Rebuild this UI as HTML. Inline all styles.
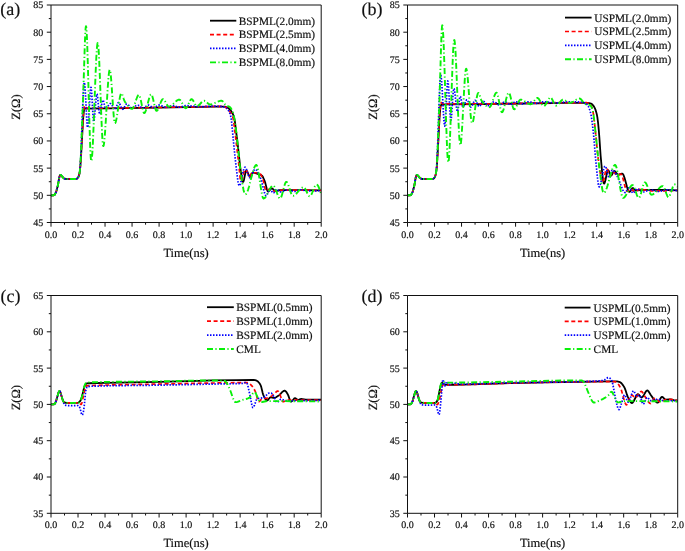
<!DOCTYPE html><html><head><meta charset="utf-8"><style>
html,body{margin:0;padding:0;background:#fff;width:685px;height:551px;overflow:hidden}
svg{display:block;font-family:"Liberation Serif", serif;will-change:transform;text-rendering:geometricPrecision}
text{stroke:#111;stroke-width:0.18px}
</style></head><body>
<svg width="685" height="551" viewBox="0 0 685 551">
<rect width="685" height="551" fill="#fff"/>
<clipPath id="clipa"><rect x="51.0" y="5.0" width="270.2" height="217.5"/></clipPath>
<g fill="none" stroke-linejoin="round" clip-path="url(#clipa)">
<path stroke="#000" stroke-width="1.8" d="M51.00 195.31 L53.50 195.31 L54.11 195.19 L54.45 194.95 L54.78 194.57 L55.53 193.29 L56.00 192.13 L56.47 190.73 L57.55 186.84 L58.09 184.28 L58.97 178.95 L59.38 176.95 L59.78 175.69 L59.98 175.31 L60.25 175.01 L60.46 174.92 L60.66 174.92 L61.20 175.28 L62.96 177.50 L63.70 178.22 L64.17 178.50 L64.78 178.75 L65.86 178.98 L74.51 179.00 L75.99 178.85 L77.01 178.56 L77.55 178.23 L78.09 177.50 L78.63 176.35 L79.24 174.37 L79.71 171.95 L80.11 168.75 L80.45 164.97 L81.13 154.68 L82.82 123.81 L83.22 117.76 L83.56 113.74 L83.90 110.91 L84.23 109.33 L84.37 109.00 L84.57 108.73 L84.78 108.62 L85.18 108.59 L109.30 108.37 L158.67 107.67 L187.65 107.20 L216.84 106.61 L224.00 106.58 L224.94 106.69 L226.02 107.00 L227.51 107.60 L228.52 108.26 L229.74 109.40 L231.16 111.10 L232.17 112.64 L232.98 114.25 L233.72 116.16 L234.26 118.06 L234.67 120.17 L235.07 123.00 L237.78 145.12 L238.52 151.52 L239.67 162.46 L240.34 167.90 L241.29 174.64 L241.90 178.37 L242.44 180.76 L242.71 181.50 L242.91 181.82 L243.11 181.92 L243.31 181.77 L243.52 181.40 L243.72 180.81 L244.13 179.13 L245.48 172.25 L245.88 171.00 L246.08 170.67 L246.35 170.52 L246.69 170.70 L247.10 171.28 L247.57 172.25 L248.99 175.60 L249.46 176.35 L249.87 176.65 L250.20 176.60 L250.61 176.15 L251.83 173.63 L252.23 172.95 L252.57 172.64 L252.97 172.51 L253.72 172.58 L254.66 172.82 L257.91 174.03 L260.34 174.76 L261.35 175.20 L261.96 175.63 L262.50 176.30 L263.04 177.25 L264.59 180.88 L265.34 183.13 L266.62 188.20 L267.09 189.83 L267.63 191.12 L267.84 191.39 L268.11 191.57 L268.44 191.55 L268.85 191.27 L269.32 190.73 L270.74 188.84 L271.21 188.44 L271.62 188.32 L272.02 188.39 L272.50 188.68 L274.05 190.23 L274.52 190.63 L274.93 190.84 L275.40 190.94 L276.62 190.83 L279.52 190.25 L280.81 190.15 L303.91 190.20 L321.20 190.42"/>
<path stroke="#ff0000" stroke-width="1.7" stroke-dasharray="4 2.6" d="M51.00 195.31 L53.50 195.31 L54.11 195.19 L54.45 194.95 L54.78 194.57 L55.53 193.29 L56.00 192.13 L56.47 190.73 L57.55 186.84 L58.09 184.28 L58.97 178.95 L59.38 176.95 L59.78 175.69 L59.98 175.31 L60.25 175.01 L60.46 174.92 L60.66 174.92 L61.20 175.28 L62.96 177.50 L63.70 178.22 L64.17 178.50 L64.85 178.77 L65.93 178.99 L74.57 179.00 L75.39 178.95 L76.13 178.82 L77.07 178.54 L77.61 178.16 L78.16 177.38 L78.70 176.17 L79.24 174.37 L79.64 172.37 L79.98 169.96 L80.32 166.59 L81.06 155.79 L82.68 125.58 L83.36 115.03 L83.76 110.45 L84.10 107.87 L84.30 106.85 L84.50 106.17 L84.71 105.80 L84.91 105.71 L85.05 105.78 L85.25 106.03 L85.92 107.35 L86.19 107.73 L86.53 107.97 L87.14 108.04 L107.54 108.04 L119.16 107.94 L161.38 107.35 L215.82 106.44 L222.58 106.42 L223.39 106.51 L224.27 106.75 L225.95 107.51 L226.97 108.24 L228.12 109.48 L230.14 112.08 L231.16 113.53 L231.97 115.02 L232.64 116.67 L233.11 118.35 L233.52 120.53 L233.93 123.46 L237.84 155.88 L238.99 166.08 L240.14 178.21 L240.48 180.41 L240.61 180.90 L240.82 181.27 L241.02 181.29 L241.22 181.08 L241.49 180.58 L241.83 179.71 L242.37 177.92 L243.72 172.80 L244.33 170.94 L244.60 170.34 L244.87 169.91 L245.14 169.67 L245.41 169.62 L245.61 169.68 L245.88 169.87 L246.35 170.44 L246.96 171.50 L248.72 175.00 L249.26 175.76 L249.73 176.10 L250.00 176.08 L250.27 175.83 L250.54 175.34 L251.35 173.41 L251.62 173.02 L251.96 172.80 L252.57 172.75 L258.78 172.76 L259.39 172.90 L259.86 173.25 L260.40 173.93 L261.01 174.97 L261.96 176.91 L262.57 178.34 L263.31 180.84 L264.59 186.50 L265.13 188.58 L265.47 189.59 L265.74 190.17 L266.01 190.53 L266.28 190.69 L266.55 190.70 L266.96 190.55 L268.92 189.15 L269.39 188.92 L269.86 188.83 L270.33 188.90 L270.88 189.15 L272.56 190.38 L273.10 190.71 L273.58 190.89 L274.12 190.95 L276.01 190.86 L280.94 190.28 L283.24 190.15 L304.92 190.20 L321.20 190.42"/>
<path stroke="#0000ff" stroke-width="1.7" stroke-dasharray="1.5 1.5" d="M51.00 195.31 L53.50 195.31 L54.11 195.19 L54.45 194.95 L54.78 194.57 L55.53 193.29 L56.00 192.13 L56.47 190.73 L57.55 186.84 L58.09 184.28 L58.97 178.95 L59.38 176.95 L59.78 175.69 L59.98 175.31 L60.25 175.01 L60.46 174.92 L60.66 174.92 L61.13 175.22 L61.61 175.73 L63.02 177.58 L63.43 178.00 L63.83 178.31 L64.44 178.62 L65.12 178.85 L65.73 178.97 L66.40 179.00 L74.78 178.99 L75.72 178.90 L76.67 178.68 L77.34 178.39 L77.88 177.83 L78.49 176.68 L79.03 175.16 L79.51 173.08 L79.84 170.73 L80.18 167.04 L80.45 162.92 L81.13 148.58 L82.55 110.47 L83.15 96.11 L83.49 89.86 L83.76 86.06 L84.10 83.12 L84.23 82.58 L84.37 82.43 L84.50 82.67 L84.71 83.76 L85.05 87.36 L85.45 93.98 L86.80 120.50 L87.21 125.52 L87.41 126.91 L87.61 127.44 L87.75 127.33 L87.95 126.48 L88.36 122.70 L88.76 116.85 L90.11 93.79 L90.52 89.22 L90.72 87.89 L90.92 87.33 L91.06 87.44 L91.19 87.94 L91.53 90.86 L91.94 96.88 L93.02 116.13 L93.42 120.44 L93.56 121.17 L93.76 121.60 L93.89 121.46 L94.10 120.70 L94.50 117.61 L95.85 101.09 L96.26 96.97 L96.60 94.74 L96.80 94.08 L96.93 93.96 L97.07 94.09 L97.27 94.77 L97.61 96.99 L98.69 108.40 L99.10 111.98 L99.43 113.74 L99.57 114.08 L99.70 114.22 L99.84 114.17 L100.04 113.79 L100.45 112.21 L101.80 103.72 L102.20 101.61 L102.54 100.45 L102.74 100.10 L102.88 100.02 L103.01 100.06 L103.15 100.21 L103.49 101.04 L104.90 107.20 L105.24 108.16 L105.58 108.63 L105.78 108.70 L105.99 108.67 L106.26 108.51 L106.59 108.20 L107.27 107.32 L108.62 105.16 L109.23 104.31 L109.90 103.67 L110.17 103.54 L110.44 103.50 L110.92 103.69 L111.46 104.26 L112.00 105.12 L113.75 108.36 L114.29 109.02 L114.77 109.27 L114.97 109.26 L115.17 109.15 L115.65 108.53 L116.19 107.34 L117.60 103.60 L118.08 102.79 L118.35 102.55 L118.55 102.48 L118.75 102.52 L118.96 102.65 L119.43 103.27 L119.97 104.37 L121.12 107.21 L121.59 108.22 L122.13 109.02 L122.40 109.23 L122.60 109.28 L122.81 109.26 L123.08 109.11 L123.62 108.49 L124.09 107.71 L125.24 105.53 L125.78 104.68 L126.25 104.20 L126.72 104.03 L126.99 104.06 L127.33 104.19 L128.01 104.67 L128.68 105.35 L130.17 107.07 L130.91 107.78 L131.52 108.15 L132.06 108.27 L132.60 108.19 L133.21 107.91 L133.88 107.44 L136.11 105.58 L136.86 105.19 L137.46 105.09 L138.00 105.17 L138.61 105.45 L139.36 105.98 L141.52 107.78 L142.19 108.14 L142.80 108.28 L143.41 108.19 L144.02 107.91 L144.76 107.38 L146.92 105.58 L147.60 105.22 L148.27 105.08 L148.81 105.15 L149.42 105.38 L150.10 105.78 L152.32 107.33 L153.00 107.63 L153.61 107.74 L154.15 107.68 L154.76 107.47 L155.50 107.04 L157.73 105.49 L158.47 105.17 L159.15 105.07 L159.82 105.14 L160.57 105.33 L164.15 106.88 L165.02 107.13 L165.77 107.21 L166.44 107.18 L167.25 107.03 L170.90 105.85 L171.78 105.67 L172.59 105.61 L173.33 105.66 L174.08 105.80 L177.59 106.95 L178.47 107.14 L179.21 107.21 L179.95 107.18 L180.70 107.05 L184.48 105.84 L185.36 105.66 L186.24 105.60 L189.27 105.75 L195.69 106.46 L198.53 106.66 L201.91 106.64 L210.08 106.21 L213.80 106.14 L216.57 106.21 L219.33 106.38 L222.37 106.66 L223.59 106.89 L224.94 107.38 L226.36 108.15 L227.17 108.80 L227.91 109.70 L228.93 111.35 L229.74 113.05 L230.41 114.99 L230.95 117.20 L231.29 119.25 L231.63 122.06 L233.86 145.49 L235.21 158.72 L235.95 165.34 L237.37 177.04 L237.98 181.44 L238.59 184.54 L238.86 185.34 L239.13 185.75 L239.26 185.81 L239.40 185.79 L239.73 185.45 L240.07 184.76 L240.41 183.80 L241.15 180.97 L242.84 173.03 L243.59 169.99 L243.99 168.70 L244.33 167.90 L244.73 167.32 L245.07 167.20 L245.34 167.31 L245.61 167.59 L246.15 168.58 L246.76 170.17 L248.11 174.38 L248.72 176.06 L249.33 177.26 L249.60 177.59 L249.87 177.76 L250.14 177.78 L250.48 177.60 L250.81 177.22 L251.15 176.68 L251.83 175.25 L253.45 171.26 L253.92 170.32 L254.39 169.66 L254.87 169.33 L255.14 169.29 L255.41 169.35 L256.01 169.73 L256.69 170.50 L257.43 171.67 L258.24 173.22 L260.13 177.34 L260.74 178.80 L261.69 181.84 L263.65 189.74 L264.46 192.64 L264.93 193.99 L265.34 194.88 L265.74 195.47 L266.08 195.69 L266.28 195.70 L266.48 195.60 L266.96 194.99 L267.50 193.79 L268.92 190.05 L269.39 189.25 L269.66 189.00 L269.86 188.93 L270.20 189.02 L270.61 189.40 L271.01 190.00 L272.36 192.35 L272.83 192.87 L273.24 193.03 L273.64 192.90 L274.05 192.53 L275.47 190.39 L275.94 189.80 L276.35 189.49 L276.68 189.40 L277.09 189.48 L277.63 189.78 L279.32 191.33 L279.86 191.73 L280.33 191.95 L280.81 192.02 L281.41 191.96 L282.16 191.77 L285.67 190.25 L286.55 189.99 L287.29 189.89 L288.03 189.92 L288.84 190.07 L292.49 191.25 L293.37 191.43 L294.11 191.49 L294.86 191.45 L295.67 191.30 L299.18 190.15 L299.99 189.97 L300.73 189.89 L301.48 189.90 L302.35 190.00 L305.93 190.78 L307.55 190.96 L311.88 190.95 L315.26 190.87 L318.16 190.71 L321.20 190.43"/>
<path stroke="#08f008" stroke-width="1.9" stroke-dasharray="6 2.4 1.2 2.4" d="M51.00 195.31 L53.50 195.31 L54.11 195.19 L54.45 194.95 L54.78 194.57 L55.53 193.29 L56.00 192.13 L56.47 190.73 L57.55 186.84 L58.09 184.28 L58.97 178.95 L59.38 176.95 L59.78 175.69 L59.98 175.31 L60.25 175.01 L60.59 174.91 L61.00 175.10 L61.54 175.65 L62.69 177.17 L63.43 178.00 L64.10 178.46 L65.12 178.85 L66.27 179.00 L75.05 178.98 L75.99 178.85 L76.87 178.61 L77.34 178.39 L77.75 178.01 L78.22 177.25 L78.70 176.18 L79.03 175.17 L79.37 173.80 L79.78 171.31 L80.18 167.13 L80.59 160.77 L80.99 152.50 L83.02 100.71 L84.91 41.58 L85.45 30.42 L85.72 27.34 L85.86 26.54 L85.99 26.23 L86.13 26.44 L86.26 27.15 L86.60 30.96 L86.94 37.39 L87.27 46.00 L87.95 68.00 L89.44 123.78 L90.18 146.39 L90.52 153.75 L90.79 157.92 L91.06 160.40 L91.19 161.01 L91.33 161.22 L91.46 161.05 L91.67 160.18 L92.07 156.50 L92.48 150.69 L92.88 143.11 L93.69 124.06 L95.52 75.19 L96.33 57.29 L96.73 50.55 L97.07 46.40 L97.41 43.81 L97.61 43.09 L97.74 42.98 L97.88 43.19 L98.08 44.10 L98.42 47.16 L98.76 51.97 L99.10 58.26 L99.77 74.15 L101.39 118.20 L102.14 134.57 L102.47 140.01 L102.74 143.19 L103.01 145.21 L103.15 145.78 L103.35 146.12 L103.49 146.03 L103.69 145.47 L104.09 143.10 L104.50 139.35 L104.90 134.45 L105.72 122.16 L107.54 90.61 L108.35 79.05 L108.76 74.70 L109.09 72.02 L109.43 70.34 L109.63 69.87 L109.77 69.79 L109.90 69.90 L110.04 70.21 L110.38 71.81 L110.71 74.46 L111.05 78.01 L111.66 86.05 L113.15 108.58 L113.82 116.91 L114.16 119.95 L114.43 121.68 L114.70 122.73 L114.83 123.01 L114.97 123.14 L115.10 123.15 L115.31 122.96 L115.71 122.04 L116.12 120.57 L116.52 118.66 L117.33 113.84 L119.16 101.49 L120.04 96.65 L120.37 95.26 L120.71 94.21 L121.05 93.54 L121.18 93.40 L121.39 93.30 L121.59 93.35 L121.79 93.54 L122.20 94.25 L122.67 95.50 L123.75 99.00 L124.22 100.31 L124.76 101.42 L125.78 102.99 L127.60 105.56 L129.09 107.26 L129.76 107.86 L130.44 108.33 L131.11 108.66 L131.72 108.81 L132.13 108.78 L132.53 108.58 L132.94 108.15 L133.34 107.50 L133.82 106.52 L134.36 105.16 L136.45 98.98 L137.33 96.75 L137.87 95.72 L138.34 95.11 L138.75 94.87 L138.95 94.87 L139.15 94.98 L139.42 95.32 L139.76 96.05 L140.37 98.12 L140.98 100.87 L142.40 108.02 L143.07 110.83 L143.41 111.87 L143.68 112.48 L143.95 112.87 L144.29 113.04 L144.62 112.90 L144.96 112.51 L145.37 111.76 L145.77 110.75 L146.65 107.90 L148.61 100.23 L149.42 97.42 L149.89 96.10 L150.30 95.21 L150.70 94.61 L151.11 94.34 L151.45 94.42 L151.72 94.73 L151.99 95.23 L152.32 96.13 L153.07 98.90 L154.55 105.72 L155.23 108.41 L155.57 109.46 L155.91 110.25 L156.24 110.73 L156.58 110.90 L156.85 110.84 L157.19 110.59 L157.53 110.18 L157.93 109.51 L158.74 107.73 L160.57 102.88 L161.38 100.99 L161.78 100.23 L162.19 99.66 L162.59 99.29 L162.93 99.16 L163.27 99.19 L163.61 99.36 L164.01 99.73 L164.42 100.25 L165.16 101.47 L166.85 104.64 L167.66 105.86 L168.27 106.43 L168.60 106.59 L168.94 106.64 L169.48 106.58 L170.16 106.35 L170.83 105.98 L171.51 105.51 L172.79 104.41 L175.76 101.51 L177.25 100.35 L177.93 99.98 L178.60 99.73 L179.21 99.65 L179.68 99.74 L180.02 99.93 L180.36 100.23 L181.10 101.21 L181.84 102.51 L183.53 105.79 L184.34 107.11 L185.09 107.94 L185.42 108.15 L185.76 108.23 L186.10 108.17 L186.37 108.00 L186.71 107.65 L187.05 107.16 L187.79 105.74 L189.34 102.09 L190.02 100.69 L190.69 99.65 L191.03 99.33 L191.37 99.17 L191.64 99.16 L191.98 99.28 L192.31 99.53 L192.65 99.90 L193.40 101.00 L195.02 103.97 L195.69 105.04 L196.10 105.54 L196.44 105.84 L196.77 106.02 L197.11 106.09 L197.45 106.05 L197.85 105.91 L198.66 105.38 L199.54 104.55 L201.37 102.50 L202.18 101.69 L202.99 101.07 L203.73 100.77 L204.07 100.74 L204.47 100.78 L205.22 101.09 L206.03 101.68 L207.85 103.35 L208.59 103.94 L209.40 104.37 L210.22 104.49 L211.50 104.33 L212.98 103.88 L214.40 103.28 L217.71 101.71 L219.33 101.09 L220.15 100.88 L220.96 100.75 L221.56 100.73 L221.97 100.81 L222.51 101.12 L223.05 101.63 L225.14 104.42 L225.95 105.28 L226.77 105.76 L228.45 106.31 L229.13 106.59 L229.80 107.04 L230.41 107.64 L231.29 108.84 L232.24 110.58 L232.84 112.03 L233.38 113.88 L233.99 116.71 L234.67 120.60 L236.36 132.21 L237.17 139.41 L239.46 162.65 L240.07 167.55 L241.63 178.49 L242.64 185.14 L243.52 189.89 L244.26 192.75 L244.67 193.74 L245.00 194.21 L245.27 194.36 L245.54 194.35 L245.81 194.22 L246.15 193.90 L246.83 192.85 L247.57 191.16 L248.25 189.20 L249.06 186.46 L252.16 174.39 L253.51 169.74 L254.26 167.69 L254.93 166.26 L255.61 165.32 L255.95 165.06 L256.22 164.99 L256.42 165.04 L256.62 165.19 L257.03 165.89 L257.43 167.09 L257.84 168.75 L258.78 173.96 L260.88 188.18 L261.76 193.37 L262.23 195.57 L262.63 197.01 L263.04 197.96 L263.24 198.25 L263.51 198.44 L263.92 198.45 L264.39 198.23 L264.93 197.77 L265.54 197.05 L266.15 196.14 L266.82 194.97 L269.52 189.63 L270.67 187.64 L271.35 186.71 L271.96 186.08 L272.50 185.72 L273.04 185.59 L273.51 185.73 L273.92 186.08 L274.32 186.62 L274.79 187.47 L275.67 189.50 L277.77 195.11 L278.31 196.35 L278.78 197.26 L279.25 197.95 L279.66 198.33 L280.06 198.47 L280.40 198.35 L280.74 198.00 L281.08 197.42 L281.82 195.45 L282.49 193.08 L284.12 186.71 L284.93 184.03 L285.33 183.02 L285.67 182.39 L286.01 181.99 L286.34 181.84 L286.68 181.93 L287.02 182.24 L287.36 182.73 L287.76 183.52 L288.57 185.62 L290.40 191.35 L291.14 193.42 L291.55 194.34 L291.95 195.06 L292.29 195.48 L292.69 195.75 L293.17 195.80 L293.71 195.67 L294.38 195.35 L295.06 194.88 L295.73 194.30 L296.54 193.47 L299.58 189.92 L300.87 188.59 L301.61 187.98 L302.29 187.55 L302.96 187.28 L303.50 187.20 L303.91 187.28 L304.31 187.54 L304.72 187.98 L305.12 188.59 L305.87 190.00 L307.69 193.97 L308.57 195.48 L308.97 195.95 L309.31 196.21 L309.72 196.32 L310.05 196.23 L310.39 195.99 L310.73 195.61 L311.54 194.21 L312.28 192.51 L314.11 187.83 L314.92 186.09 L315.32 185.42 L315.73 184.91 L316.13 184.60 L316.47 184.51 L316.94 184.63 L317.48 185.06 L318.03 185.80 L318.57 186.80 L319.51 189.14 L320.86 193.43 L321.20 194.27"/>
</g>
<g stroke="#111" stroke-width="1" fill="none">
<path d="M51.00 5.00 H321.20 V222.50 H51.00 Z" stroke="#111" stroke-width="1"/>
<line x1="51.00" y1="222.50" x2="51.00" y2="226.70"/>
<line x1="64.51" y1="222.50" x2="64.51" y2="224.70"/>
<line x1="78.02" y1="222.50" x2="78.02" y2="226.70"/>
<line x1="91.53" y1="222.50" x2="91.53" y2="224.70"/>
<line x1="105.04" y1="222.50" x2="105.04" y2="226.70"/>
<line x1="118.55" y1="222.50" x2="118.55" y2="224.70"/>
<line x1="132.06" y1="222.50" x2="132.06" y2="226.70"/>
<line x1="145.57" y1="222.50" x2="145.57" y2="224.70"/>
<line x1="159.08" y1="222.50" x2="159.08" y2="226.70"/>
<line x1="172.59" y1="222.50" x2="172.59" y2="224.70"/>
<line x1="186.10" y1="222.50" x2="186.10" y2="226.70"/>
<line x1="199.61" y1="222.50" x2="199.61" y2="224.70"/>
<line x1="213.12" y1="222.50" x2="213.12" y2="226.70"/>
<line x1="226.63" y1="222.50" x2="226.63" y2="224.70"/>
<line x1="240.14" y1="222.50" x2="240.14" y2="226.70"/>
<line x1="253.65" y1="222.50" x2="253.65" y2="224.70"/>
<line x1="267.16" y1="222.50" x2="267.16" y2="226.70"/>
<line x1="280.67" y1="222.50" x2="280.67" y2="224.70"/>
<line x1="294.18" y1="222.50" x2="294.18" y2="226.70"/>
<line x1="307.69" y1="222.50" x2="307.69" y2="224.70"/>
<line x1="321.20" y1="222.50" x2="321.20" y2="226.70"/>
<line x1="51.00" y1="222.50" x2="46.80" y2="222.50"/>
<line x1="51.00" y1="208.91" x2="48.80" y2="208.91"/>
<line x1="51.00" y1="195.31" x2="46.80" y2="195.31"/>
<line x1="51.00" y1="181.72" x2="48.80" y2="181.72"/>
<line x1="51.00" y1="168.12" x2="46.80" y2="168.12"/>
<line x1="51.00" y1="154.53" x2="48.80" y2="154.53"/>
<line x1="51.00" y1="140.94" x2="46.80" y2="140.94"/>
<line x1="51.00" y1="127.34" x2="48.80" y2="127.34"/>
<line x1="51.00" y1="113.75" x2="46.80" y2="113.75"/>
<line x1="51.00" y1="100.16" x2="48.80" y2="100.16"/>
<line x1="51.00" y1="86.56" x2="46.80" y2="86.56"/>
<line x1="51.00" y1="72.97" x2="48.80" y2="72.97"/>
<line x1="51.00" y1="59.38" x2="46.80" y2="59.38"/>
<line x1="51.00" y1="45.78" x2="48.80" y2="45.78"/>
<line x1="51.00" y1="32.19" x2="46.80" y2="32.19"/>
<line x1="51.00" y1="18.59" x2="48.80" y2="18.59"/>
<line x1="51.00" y1="5.00" x2="46.80" y2="5.00"/>
</g>
<g font-size="10" fill="#111" text-anchor="middle">
<text x="51.00" y="237.90">0.0</text>
<text x="78.02" y="237.90">0.2</text>
<text x="105.04" y="237.90">0.4</text>
<text x="132.06" y="237.90">0.6</text>
<text x="159.08" y="237.90">0.8</text>
<text x="186.10" y="237.90">1.0</text>
<text x="213.12" y="237.90">1.2</text>
<text x="240.14" y="237.90">1.4</text>
<text x="267.16" y="237.90">1.6</text>
<text x="294.18" y="237.90">1.8</text>
<text x="321.20" y="237.90">2.0</text>
</g>
<g font-size="10" fill="#111" text-anchor="end">
<text x="43.20" y="225.90">45</text>
<text x="43.20" y="198.71">50</text>
<text x="43.20" y="171.53">55</text>
<text x="43.20" y="144.34">60</text>
<text x="43.20" y="117.15">65</text>
<text x="43.20" y="89.96">70</text>
<text x="43.20" y="62.77">75</text>
<text x="43.20" y="35.59">80</text>
<text x="43.20" y="8.40">85</text>
</g>
<text x="186.10" y="256.70" font-size="12.5" fill="#111" text-anchor="middle">Time(ns)</text>
<text transform="translate(20.00 107.05) rotate(-90)" font-size="12.5" fill="#111" text-anchor="middle">Z(&#937;)</text>
<text x="0.30" y="15.20" font-size="18" fill="#111">(a)</text>
<line x1="210.00" y1="20.70" x2="236.30" y2="20.70" stroke="#000" stroke-width="1.8"/>
<text x="238.80" y="24.60" font-size="11.3" fill="#111">BSPML(2.0mm)</text>
<line x1="210.00" y1="34.58" x2="236.30" y2="34.58" stroke="#ff0000" stroke-width="1.7" stroke-dasharray="4 2.6"/>
<text x="238.80" y="38.48" font-size="11.3" fill="#111">BSPML(2.5mm)</text>
<line x1="210.00" y1="48.46" x2="236.30" y2="48.46" stroke="#0000ff" stroke-width="1.7" stroke-dasharray="1.5 1.5"/>
<text x="238.80" y="52.36" font-size="11.3" fill="#111">BSPML(4.0mm)</text>
<line x1="210.00" y1="62.34" x2="236.30" y2="62.34" stroke="#08f008" stroke-width="1.9" stroke-dasharray="6 2.4 1.2 2.4"/>
<text x="238.80" y="66.24" font-size="11.3" fill="#111">BSPML(8.0mm)</text>
<clipPath id="clipb"><rect x="407.5" y="5.0" width="270.2" height="217.5"/></clipPath>
<g fill="none" stroke-linejoin="round" clip-path="url(#clipb)">
<path stroke="#000" stroke-width="1.8" d="M407.50 195.31 L410.00 195.31 L410.61 195.19 L410.95 194.95 L411.28 194.57 L412.03 193.29 L412.50 192.13 L412.97 190.73 L414.05 186.84 L414.59 184.28 L415.47 178.95 L415.88 176.95 L416.28 175.69 L416.48 175.31 L416.75 175.01 L416.96 174.92 L417.16 174.92 L417.70 175.28 L419.46 177.50 L420.20 178.22 L421.21 178.72 L422.29 178.98 L431.01 179.00 L432.43 178.87 L433.51 178.56 L434.05 178.23 L434.52 177.62 L435.06 176.52 L435.67 174.64 L436.21 171.94 L436.61 168.66 L436.95 164.75 L437.63 154.04 L439.45 119.29 L439.92 112.40 L440.40 107.70 L440.60 106.47 L440.80 105.67 L441.00 105.21 L441.27 104.90 L441.75 104.68 L442.42 104.54 L445.26 104.45 L482.82 104.14 L552.46 103.03 L564.82 102.89 L587.39 102.88 L589.14 103.10 L591.03 103.63 L591.51 103.84 L591.98 104.15 L592.86 105.02 L594.01 106.60 L594.82 108.10 L595.56 109.95 L596.23 112.11 L596.91 114.81 L597.38 117.33 L598.06 122.62 L598.80 130.30 L599.34 137.19 L600.63 155.72 L602.04 171.17 L602.65 176.82 L603.12 180.31 L603.60 182.63 L603.80 183.20 L604.00 183.50 L604.21 183.54 L604.41 183.37 L604.61 183.01 L604.88 182.28 L605.42 180.20 L606.64 174.33 L607.11 172.34 L607.65 170.77 L607.92 170.37 L608.19 170.25 L608.46 170.41 L608.80 170.90 L610.29 174.59 L610.69 175.29 L611.03 175.55 L611.37 175.49 L611.77 175.05 L612.18 174.32 L613.39 171.75 L613.80 171.19 L614.20 170.96 L614.61 171.03 L615.08 171.38 L615.55 171.92 L617.04 173.90 L617.51 174.35 L617.92 174.56 L618.32 174.61 L618.93 174.53 L621.09 173.79 L621.84 173.62 L622.38 173.65 L622.85 173.97 L623.19 174.42 L623.52 175.06 L624.34 177.22 L625.08 179.75 L626.90 186.59 L627.78 189.38 L628.19 190.40 L628.59 191.19 L629.00 191.71 L629.33 191.91 L629.67 191.88 L630.08 191.56 L630.48 190.98 L631.83 188.64 L632.24 188.21 L632.64 188.07 L632.98 188.14 L633.39 188.39 L635.14 190.10 L635.55 190.31 L636.02 190.40 L637.78 190.34 L642.71 189.91 L646.22 189.88 L663.99 189.99 L670.95 190.15 L677.70 190.41"/>
<path stroke="#ff0000" stroke-width="1.7" stroke-dasharray="4 2.6" d="M407.50 195.31 L410.00 195.31 L410.61 195.19 L410.95 194.95 L411.28 194.57 L412.03 193.29 L412.50 192.13 L412.97 190.73 L414.05 186.84 L414.59 184.28 L415.47 178.95 L415.88 176.95 L416.28 175.69 L416.48 175.31 L416.75 175.01 L416.96 174.92 L417.16 174.92 L417.70 175.28 L419.46 177.50 L420.20 178.22 L420.67 178.50 L421.35 178.77 L422.43 178.99 L431.07 179.00 L431.89 178.95 L432.63 178.82 L433.57 178.54 L434.11 178.16 L434.66 177.38 L435.20 176.17 L435.74 174.38 L436.14 172.35 L436.48 169.88 L436.82 166.35 L437.56 154.91 L439.11 124.08 L439.86 111.78 L440.26 107.11 L440.60 104.59 L440.80 103.64 L441.00 103.03 L441.21 102.70 L441.41 102.60 L441.75 102.76 L442.42 103.55 L442.76 103.82 L443.10 103.93 L443.71 103.96 L476.47 103.96 L486.67 103.89 L549.76 102.80 L564.08 102.62 L585.70 102.61 L586.85 102.71 L587.99 103.03 L589.01 103.48 L589.88 104.00 L590.43 104.52 L590.90 105.22 L591.57 106.61 L592.25 108.43 L592.65 109.84 L593.06 111.76 L593.80 116.88 L594.82 125.79 L595.76 134.71 L597.32 151.22 L598.26 159.19 L599.75 169.94 L600.76 176.23 L601.23 178.56 L601.64 180.15 L602.04 181.29 L602.45 181.93 L602.72 182.02 L602.92 181.91 L603.19 181.49 L603.46 180.79 L604.00 178.74 L605.22 172.81 L605.69 170.82 L605.96 169.94 L606.23 169.31 L606.43 169.02 L606.70 168.89 L607.04 169.08 L607.45 169.73 L607.85 170.68 L609.20 174.39 L609.61 175.15 L610.01 175.53 L610.35 175.50 L610.69 175.16 L611.10 174.45 L612.18 172.17 L612.58 171.65 L612.92 171.50 L613.32 171.59 L613.80 171.95 L614.27 172.48 L615.76 174.42 L616.23 174.86 L616.63 175.08 L617.11 175.16 L617.72 175.07 L619.74 174.35 L620.49 174.17 L621.03 174.21 L621.43 174.52 L621.70 174.91 L622.04 175.60 L622.71 177.56 L623.39 180.05 L624.94 186.35 L625.69 188.92 L626.09 190.01 L626.43 190.70 L626.77 191.16 L627.11 191.38 L627.44 191.37 L627.85 191.15 L628.25 190.77 L629.60 189.26 L630.08 188.94 L630.48 188.85 L630.96 188.96 L631.43 189.24 L633.59 191.15 L634.06 191.39 L634.54 191.47 L635.14 191.39 L635.82 191.15 L638.72 189.60 L639.33 189.41 L639.94 189.34 L641.02 189.39 L642.24 189.53 L647.84 190.68 L649.13 190.87 L650.34 190.95 L658.99 190.95 L665.95 190.86 L671.89 190.70 L677.70 190.43"/>
<path stroke="#0000ff" stroke-width="1.7" stroke-dasharray="1.5 1.5" d="M407.50 195.31 L410.00 195.31 L410.61 195.19 L410.95 194.95 L411.28 194.57 L412.03 193.29 L412.50 192.13 L412.97 190.73 L414.05 186.84 L414.59 184.28 L415.47 178.95 L415.88 176.95 L416.28 175.69 L416.48 175.31 L416.75 175.01 L417.09 174.91 L417.56 175.16 L418.04 175.65 L419.19 177.17 L419.93 178.00 L420.60 178.46 L421.55 178.83 L422.09 178.95 L422.70 179.00 L430.80 179.00 L431.75 178.96 L432.63 178.82 L433.51 178.56 L433.98 178.29 L434.38 177.83 L434.86 176.98 L435.26 176.00 L435.60 174.92 L436.01 173.07 L436.34 170.60 L436.68 166.60 L436.95 162.04 L437.63 146.00 L438.98 105.54 L439.59 89.66 L439.92 82.87 L440.19 78.85 L440.46 76.29 L440.60 75.59 L440.67 75.38 L440.80 75.25 L441.00 75.73 L441.27 77.46 L441.75 82.94 L442.22 90.59 L443.37 112.00 L443.91 120.29 L444.31 124.47 L444.52 125.65 L444.72 126.07 L444.86 125.88 L444.92 125.63 L445.06 124.83 L445.40 121.07 L445.80 113.86 L447.02 87.89 L447.42 82.59 L447.62 81.28 L447.76 80.96 L447.83 80.97 L447.89 81.08 L448.10 82.04 L448.44 85.41 L448.84 91.62 L450.06 113.59 L450.46 118.33 L450.66 119.64 L450.87 120.13 L451.00 120.00 L451.20 119.15 L451.61 115.44 L452.83 97.15 L453.23 92.07 L453.57 89.40 L453.70 88.82 L453.91 88.45 L453.97 88.45 L454.11 88.63 L454.31 89.26 L454.79 92.03 L456.20 104.98 L456.68 108.68 L457.08 110.79 L457.28 111.34 L457.49 111.50 L457.62 111.38 L457.82 110.86 L458.16 109.19 L459.24 100.63 L459.65 97.96 L459.99 96.65 L460.12 96.42 L460.26 96.36 L460.39 96.46 L460.53 96.71 L460.86 97.86 L461.95 103.85 L462.35 105.72 L462.69 106.66 L462.82 106.86 L463.03 106.98 L463.23 106.92 L463.43 106.73 L463.97 105.82 L465.53 101.80 L466.07 100.62 L466.54 99.95 L466.74 99.81 L466.94 99.76 L467.15 99.81 L467.35 99.95 L467.82 100.62 L468.36 101.80 L469.51 104.86 L469.98 105.96 L470.52 106.82 L470.79 107.03 L471.00 107.09 L471.20 107.04 L471.40 106.91 L471.88 106.29 L472.42 105.19 L473.56 102.35 L474.04 101.33 L474.58 100.53 L474.85 100.33 L475.05 100.29 L475.46 100.45 L475.93 101.02 L476.47 102.04 L477.62 104.66 L478.09 105.59 L478.63 106.33 L478.90 106.52 L479.10 106.57 L479.31 106.54 L479.58 106.39 L480.12 105.78 L480.59 104.99 L481.74 102.81 L482.28 101.96 L482.75 101.48 L483.22 101.31 L483.49 101.34 L483.83 101.47 L484.51 101.95 L485.18 102.63 L486.67 104.35 L487.41 105.06 L488.02 105.43 L488.56 105.55 L489.10 105.45 L489.71 105.13 L490.38 104.57 L491.94 103.00 L492.61 102.40 L493.29 101.98 L493.96 101.83 L494.50 101.91 L495.11 102.19 L495.79 102.66 L498.02 104.52 L498.76 104.91 L499.37 105.01 L499.91 104.93 L500.52 104.65 L501.26 104.12 L503.42 102.32 L504.10 101.96 L504.77 101.82 L505.31 101.89 L505.92 102.12 L506.60 102.52 L508.83 104.07 L509.57 104.39 L510.18 104.48 L510.72 104.40 L511.32 104.17 L512.07 103.73 L514.23 102.23 L514.90 101.93 L515.58 101.81 L516.26 101.86 L517.00 102.04 L517.88 102.38 L520.65 103.61 L521.52 103.86 L522.27 103.95 L523.01 103.89 L523.75 103.71 L524.63 103.37 L527.40 102.14 L528.28 101.89 L529.02 101.80 L529.70 101.83 L530.51 101.98 L534.16 103.16 L535.03 103.34 L535.78 103.41 L536.52 103.36 L537.26 103.23 L540.91 102.05 L541.79 101.86 L542.60 101.79 L545.57 101.92 L552.53 102.69 L555.64 102.87 L557.19 102.85 L558.95 102.75 L566.04 101.98 L569.21 101.79 L573.47 101.83 L577.66 101.96 L582.39 102.27 L583.87 102.48 L584.48 102.69 L585.16 103.02 L586.51 103.94 L587.45 104.84 L588.13 105.86 L589.01 107.81 L589.88 110.38 L590.63 113.05 L591.17 115.64 L591.71 118.98 L592.25 122.92 L593.40 132.78 L594.01 139.44 L595.56 158.33 L597.59 179.01 L597.99 182.35 L598.33 184.54 L598.67 186.03 L599.00 186.76 L599.14 186.86 L599.27 186.86 L599.61 186.52 L599.95 185.82 L600.29 184.83 L601.10 181.59 L602.92 172.46 L603.67 169.23 L604.07 167.85 L604.48 166.83 L604.81 166.32 L605.02 166.17 L605.15 166.16 L605.35 166.25 L605.62 166.59 L606.10 167.73 L606.57 169.40 L608.12 175.70 L608.60 177.01 L608.80 177.38 L609.00 177.60 L609.20 177.66 L609.41 177.56 L609.81 176.88 L610.22 175.69 L611.37 171.61 L611.70 170.76 L611.97 170.35 L612.18 170.19 L612.38 170.13 L612.92 170.30 L613.53 170.78 L614.27 171.65 L615.08 172.83 L616.97 175.86 L617.92 177.63 L619.07 180.37 L621.70 187.44 L622.85 190.05 L623.39 191.02 L623.86 191.70 L624.34 192.19 L624.81 192.47 L625.08 192.52 L625.35 192.47 L625.89 192.06 L626.43 191.32 L627.65 189.19 L628.12 188.47 L628.59 187.98 L628.86 187.83 L629.06 187.80 L629.47 187.94 L629.94 188.42 L630.48 189.27 L631.63 191.45 L632.10 192.23 L632.64 192.85 L633.12 193.04 L633.59 192.90 L634.13 192.41 L635.75 190.04 L636.29 189.36 L636.76 188.98 L637.24 188.84 L637.85 188.96 L638.52 189.32 L640.68 191.12 L641.43 191.65 L642.03 191.93 L642.57 192.03 L643.38 191.98 L644.33 191.78 L645.41 191.43 L648.59 190.24 L649.60 189.99 L650.54 189.89 L651.42 189.92 L652.44 190.08 L656.62 191.22 L657.64 191.41 L658.52 191.49 L659.46 191.47 L660.47 191.32 L664.80 190.15 L665.81 189.96 L666.76 189.88 L670.00 189.92 L672.77 190.09 L675.13 190.40 L677.70 190.93"/>
<path stroke="#08f008" stroke-width="1.9" stroke-dasharray="6 2.4 1.2 2.4" d="M407.50 195.31 L410.00 195.31 L410.61 195.19 L410.95 194.95 L411.28 194.57 L412.03 193.29 L412.50 192.13 L412.97 190.73 L414.05 186.84 L414.59 184.28 L415.47 178.95 L415.88 176.95 L416.28 175.69 L416.48 175.31 L416.75 175.01 L417.09 174.91 L417.50 175.10 L418.04 175.65 L419.19 177.17 L419.93 178.00 L420.60 178.46 L421.62 178.85 L422.77 179.00 L431.55 178.98 L432.49 178.85 L433.37 178.61 L433.84 178.39 L434.25 178.01 L434.72 177.25 L435.20 176.18 L435.53 175.17 L435.87 173.81 L436.34 170.77 L436.75 166.30 L437.15 159.71 L437.63 149.76 L439.52 100.04 L440.87 52.71 L441.34 38.26 L441.82 28.60 L442.02 26.38 L442.15 25.57 L442.29 25.29 L442.42 25.50 L442.63 26.65 L442.96 30.44 L443.37 37.59 L443.77 47.06 L444.52 68.80 L446.21 124.77 L447.02 146.69 L447.35 153.52 L447.69 158.56 L448.03 161.54 L448.17 162.12 L448.30 162.33 L448.44 162.17 L448.57 161.66 L448.91 158.90 L449.25 154.23 L449.58 147.91 L450.33 129.57 L452.02 78.68 L452.76 59.04 L453.16 50.60 L453.57 44.37 L453.91 41.19 L454.04 40.48 L454.24 40.02 L454.38 40.11 L454.51 40.51 L454.85 42.77 L455.19 46.63 L455.53 51.85 L456.34 68.63 L458.09 113.12 L458.84 129.43 L459.24 136.41 L459.58 140.84 L459.99 144.18 L460.12 144.77 L460.32 145.16 L460.46 145.09 L460.66 144.53 L461.00 142.47 L461.34 139.20 L461.74 133.92 L462.49 121.46 L464.17 88.94 L464.92 77.35 L465.26 73.43 L465.59 70.61 L465.86 69.24 L466.00 68.87 L466.20 68.68 L466.34 68.80 L466.54 69.29 L466.88 70.86 L467.21 73.25 L467.62 77.01 L468.36 85.76 L470.05 108.42 L470.79 116.59 L471.13 119.41 L471.47 121.49 L471.74 122.57 L471.88 122.90 L472.08 123.16 L472.21 123.18 L472.35 123.09 L472.69 122.49 L473.02 121.43 L473.36 119.99 L474.17 115.34 L476.00 102.37 L476.74 97.75 L477.14 95.75 L477.55 94.23 L477.95 93.31 L478.09 93.15 L478.29 93.03 L478.50 93.06 L478.70 93.23 L479.17 94.03 L479.71 95.45 L481.13 99.79 L481.60 100.83 L482.21 101.74 L484.30 104.15 L485.25 105.07 L486.13 105.81 L487.01 106.42 L487.82 106.84 L488.63 107.11 L489.30 107.19 L489.78 107.08 L490.25 106.69 L490.72 105.99 L491.19 105.03 L492.07 102.75 L494.17 96.45 L494.71 95.05 L495.18 94.03 L495.65 93.25 L496.06 92.83 L496.40 92.69 L496.73 92.81 L497.00 93.16 L497.34 93.91 L497.95 96.04 L498.56 98.88 L500.04 106.73 L500.72 109.70 L501.06 110.83 L501.39 111.65 L501.66 112.05 L502.00 112.22 L502.34 112.06 L502.68 111.64 L503.02 110.98 L503.42 109.94 L504.30 106.94 L506.26 98.79 L507.07 95.83 L507.54 94.44 L507.95 93.54 L508.35 92.94 L508.69 92.72 L509.03 92.79 L509.30 93.09 L509.57 93.60 L509.91 94.50 L510.65 97.27 L512.13 104.09 L512.81 106.78 L513.15 107.83 L513.49 108.62 L513.82 109.10 L514.16 109.28 L514.50 109.21 L514.90 108.92 L515.31 108.45 L515.72 107.83 L516.53 106.28 L518.35 102.31 L519.16 100.86 L519.57 100.31 L519.90 99.97 L520.24 99.76 L520.58 99.66 L521.05 99.66 L521.66 99.78 L523.01 100.31 L524.29 101.06 L527.20 103.00 L528.48 103.70 L529.63 104.11 L530.17 104.20 L530.64 104.20 L531.05 104.11 L531.45 103.92 L532.33 103.20 L533.14 102.27 L535.10 99.70 L536.05 98.69 L536.52 98.34 L536.93 98.13 L537.33 98.04 L537.67 98.07 L538.01 98.21 L538.34 98.46 L539.15 99.44 L539.90 100.67 L541.59 103.81 L542.40 105.06 L543.14 105.83 L543.48 106.01 L543.82 106.07 L544.15 106.01 L544.56 105.78 L545.30 104.98 L546.11 103.70 L547.94 100.24 L548.68 98.98 L549.49 97.97 L549.90 97.66 L550.23 97.53 L550.57 97.53 L550.84 97.64 L551.18 97.90 L551.52 98.30 L552.33 99.67 L553.95 103.09 L554.62 104.33 L555.03 104.90 L555.37 105.25 L555.70 105.46 L556.04 105.54 L556.38 105.50 L556.79 105.35 L557.60 104.79 L558.54 103.83 L561.11 100.80 L561.92 100.10 L562.66 99.72 L563.41 99.66 L564.28 99.91 L565.23 100.45 L567.19 101.90 L568.00 102.41 L568.88 102.77 L569.76 102.85 L570.90 102.63 L572.12 102.14 L573.34 101.46 L576.10 99.74 L577.52 99.01 L578.27 98.75 L578.94 98.59 L579.48 98.55 L579.96 98.62 L580.56 98.93 L581.24 99.54 L581.91 100.35 L583.87 102.96 L584.41 103.54 L584.95 103.97 L585.43 104.21 L586.03 104.38 L589.34 104.90 L589.95 105.12 L590.43 105.45 L591.03 106.18 L591.71 107.37 L592.32 108.78 L592.72 110.09 L593.26 112.83 L593.94 117.92 L595.96 136.21 L598.53 161.43 L600.76 179.00 L601.64 185.32 L602.31 189.26 L602.92 191.73 L603.19 192.41 L603.53 192.89 L603.80 193.01 L604.07 192.96 L604.34 192.79 L604.68 192.46 L605.35 191.43 L606.10 189.83 L606.77 188.01 L607.58 185.49 L610.83 173.89 L612.24 169.41 L612.99 167.54 L613.73 166.11 L614.41 165.27 L614.74 165.04 L615.01 164.97 L615.28 165.03 L615.49 165.19 L615.89 165.82 L616.36 167.07 L616.84 168.80 L617.85 173.77 L620.15 187.59 L621.16 192.92 L621.70 195.14 L622.17 196.61 L622.65 197.54 L622.85 197.77 L623.12 197.92 L623.52 197.91 L624.07 197.63 L624.61 197.13 L625.15 196.46 L626.36 194.47 L629.00 189.19 L630.14 187.15 L630.75 186.28 L631.36 185.61 L631.90 185.21 L632.44 185.05 L632.85 185.15 L633.25 185.50 L633.66 186.10 L634.06 186.92 L634.87 189.04 L636.70 194.55 L637.58 196.66 L637.98 197.34 L638.39 197.77 L638.72 197.91 L639.06 197.81 L639.33 197.56 L639.67 197.04 L640.41 195.20 L641.09 192.94 L642.71 186.87 L643.52 184.33 L643.86 183.53 L644.20 182.92 L644.53 182.53 L644.80 182.39 L645.14 182.42 L645.55 182.70 L645.95 183.22 L646.36 183.92 L647.23 185.94 L648.92 190.56 L649.67 192.40 L650.41 193.81 L650.75 194.26 L651.09 194.55 L651.56 194.72 L652.17 194.66 L652.91 194.38 L653.72 193.88 L654.46 193.28 L655.34 192.44 L658.58 188.83 L660.00 187.44 L660.74 186.86 L661.49 186.43 L662.16 186.18 L662.77 186.12 L663.11 186.24 L663.38 186.45 L663.72 186.87 L664.05 187.45 L664.80 189.17 L666.42 193.75 L667.09 195.41 L667.50 196.20 L667.84 196.69 L668.18 197.00 L668.45 197.10 L668.78 197.03 L669.12 196.74 L669.46 196.26 L669.86 195.47 L670.67 193.34 L672.70 187.18 L673.31 185.76 L673.85 184.91 L674.19 184.61 L674.59 184.49 L675.07 184.54 L675.61 184.75 L676.08 185.06 L676.48 185.43 L677.70 186.92"/>
</g>
<g stroke="#111" stroke-width="1" fill="none">
<path d="M407.50 5.00 H677.70 V222.50 H407.50 Z" stroke="#111" stroke-width="1"/>
<line x1="407.50" y1="222.50" x2="407.50" y2="226.70"/>
<line x1="421.01" y1="222.50" x2="421.01" y2="224.70"/>
<line x1="434.52" y1="222.50" x2="434.52" y2="226.70"/>
<line x1="448.03" y1="222.50" x2="448.03" y2="224.70"/>
<line x1="461.54" y1="222.50" x2="461.54" y2="226.70"/>
<line x1="475.05" y1="222.50" x2="475.05" y2="224.70"/>
<line x1="488.56" y1="222.50" x2="488.56" y2="226.70"/>
<line x1="502.07" y1="222.50" x2="502.07" y2="224.70"/>
<line x1="515.58" y1="222.50" x2="515.58" y2="226.70"/>
<line x1="529.09" y1="222.50" x2="529.09" y2="224.70"/>
<line x1="542.60" y1="222.50" x2="542.60" y2="226.70"/>
<line x1="556.11" y1="222.50" x2="556.11" y2="224.70"/>
<line x1="569.62" y1="222.50" x2="569.62" y2="226.70"/>
<line x1="583.13" y1="222.50" x2="583.13" y2="224.70"/>
<line x1="596.64" y1="222.50" x2="596.64" y2="226.70"/>
<line x1="610.15" y1="222.50" x2="610.15" y2="224.70"/>
<line x1="623.66" y1="222.50" x2="623.66" y2="226.70"/>
<line x1="637.17" y1="222.50" x2="637.17" y2="224.70"/>
<line x1="650.68" y1="222.50" x2="650.68" y2="226.70"/>
<line x1="664.19" y1="222.50" x2="664.19" y2="224.70"/>
<line x1="677.70" y1="222.50" x2="677.70" y2="226.70"/>
<line x1="407.50" y1="222.50" x2="403.30" y2="222.50"/>
<line x1="407.50" y1="208.91" x2="405.30" y2="208.91"/>
<line x1="407.50" y1="195.31" x2="403.30" y2="195.31"/>
<line x1="407.50" y1="181.72" x2="405.30" y2="181.72"/>
<line x1="407.50" y1="168.12" x2="403.30" y2="168.12"/>
<line x1="407.50" y1="154.53" x2="405.30" y2="154.53"/>
<line x1="407.50" y1="140.94" x2="403.30" y2="140.94"/>
<line x1="407.50" y1="127.34" x2="405.30" y2="127.34"/>
<line x1="407.50" y1="113.75" x2="403.30" y2="113.75"/>
<line x1="407.50" y1="100.16" x2="405.30" y2="100.16"/>
<line x1="407.50" y1="86.56" x2="403.30" y2="86.56"/>
<line x1="407.50" y1="72.97" x2="405.30" y2="72.97"/>
<line x1="407.50" y1="59.38" x2="403.30" y2="59.38"/>
<line x1="407.50" y1="45.78" x2="405.30" y2="45.78"/>
<line x1="407.50" y1="32.19" x2="403.30" y2="32.19"/>
<line x1="407.50" y1="18.59" x2="405.30" y2="18.59"/>
<line x1="407.50" y1="5.00" x2="403.30" y2="5.00"/>
</g>
<g font-size="10" fill="#111" text-anchor="middle">
<text x="407.50" y="237.90">0.0</text>
<text x="434.52" y="237.90">0.2</text>
<text x="461.54" y="237.90">0.4</text>
<text x="488.56" y="237.90">0.6</text>
<text x="515.58" y="237.90">0.8</text>
<text x="542.60" y="237.90">1.0</text>
<text x="569.62" y="237.90">1.2</text>
<text x="596.64" y="237.90">1.4</text>
<text x="623.66" y="237.90">1.6</text>
<text x="650.68" y="237.90">1.8</text>
<text x="677.70" y="237.90">2.0</text>
</g>
<g font-size="10" fill="#111" text-anchor="end">
<text x="399.70" y="225.90">45</text>
<text x="399.70" y="198.71">50</text>
<text x="399.70" y="171.53">55</text>
<text x="399.70" y="144.34">60</text>
<text x="399.70" y="117.15">65</text>
<text x="399.70" y="89.96">70</text>
<text x="399.70" y="62.77">75</text>
<text x="399.70" y="35.59">80</text>
<text x="399.70" y="8.40">85</text>
</g>
<text x="542.60" y="256.70" font-size="12.5" fill="#111" text-anchor="middle">Time(ns)</text>
<text transform="translate(376.50 107.05) rotate(-90)" font-size="12.5" fill="#111" text-anchor="middle">Z(&#937;)</text>
<text x="361.50" y="15.20" font-size="18" fill="#111">(b)</text>
<line x1="565.00" y1="17.60" x2="591.60" y2="17.60" stroke="#000" stroke-width="1.8"/>
<text x="594.30" y="21.50" font-size="11.3" fill="#111">USPML(2.0mm)</text>
<line x1="565.00" y1="31.50" x2="591.60" y2="31.50" stroke="#ff0000" stroke-width="1.7" stroke-dasharray="4 2.6"/>
<text x="594.30" y="35.40" font-size="11.3" fill="#111">USPML(2.5mm)</text>
<line x1="565.00" y1="45.40" x2="591.60" y2="45.40" stroke="#0000ff" stroke-width="1.7" stroke-dasharray="1.5 1.5"/>
<text x="594.30" y="49.30" font-size="11.3" fill="#111">USPML(4.0mm)</text>
<line x1="565.00" y1="59.30" x2="591.60" y2="59.30" stroke="#08f008" stroke-width="1.9" stroke-dasharray="6 2.4 1.2 2.4"/>
<text x="594.30" y="63.20" font-size="11.3" fill="#111">USPML(8.0mm)</text>
<clipPath id="clipc"><rect x="51.0" y="295.5" width="270.2" height="217.8"/></clipPath>
<g fill="none" stroke-linejoin="round" clip-path="url(#clipc)">
<path stroke="#000" stroke-width="1.8" d="M51.00 404.40 L53.03 404.35 L54.04 404.24 L54.58 403.96 L55.05 403.41 L55.66 402.24 L56.27 400.59 L58.09 394.04 L58.57 392.52 L59.04 391.44 L59.31 391.13 L59.51 391.06 L59.78 391.18 L60.05 391.50 L60.59 392.69 L62.15 398.21 L62.89 400.37 L63.56 401.64 L63.90 402.05 L64.31 402.38 L64.92 402.61 L66.00 402.74 L68.16 402.89 L70.52 402.94 L73.97 402.92 L77.14 402.81 L78.22 402.71 L78.83 402.50 L79.44 402.00 L80.11 401.10 L80.86 399.76 L81.40 398.45 L82.07 396.10 L83.96 388.21 L84.37 386.82 L84.78 385.73 L85.32 384.70 L85.86 383.98 L86.40 383.54 L87.00 383.35 L88.83 383.25 L105.11 382.90 L159.76 381.88 L198.06 380.78 L212.38 380.45 L236.97 380.05 L252.64 379.93 L254.39 380.01 L255.14 380.17 L255.95 380.43 L257.23 381.01 L258.18 381.74 L259.26 383.00 L260.27 384.60 L260.81 385.72 L261.22 386.88 L262.70 393.02 L263.11 394.37 L263.51 395.44 L264.46 397.46 L265.40 399.07 L266.21 400.02 L266.55 400.26 L266.89 400.39 L267.36 400.36 L267.84 400.07 L268.31 399.55 L269.52 397.97 L269.93 397.61 L270.27 397.43 L270.61 397.35 L271.08 397.36 L273.31 397.77 L274.19 397.83 L275.06 397.69 L276.08 397.25 L278.24 395.86 L279.25 395.10 L280.13 394.27 L282.09 392.20 L282.97 391.41 L283.84 390.87 L284.59 390.69 L285.20 390.85 L285.80 391.33 L286.48 392.18 L287.29 393.47 L287.90 394.58 L288.37 395.63 L289.72 399.56 L290.13 400.57 L290.60 401.36 L291.01 401.63 L291.41 401.58 L291.82 401.31 L292.36 400.75 L293.98 398.75 L294.52 398.34 L294.99 398.20 L295.33 398.24 L295.73 398.41 L297.35 399.63 L297.76 399.85 L298.17 399.94 L298.84 399.83 L300.39 399.09 L301.21 398.98 L302.49 399.07 L305.80 399.54 L307.28 399.67 L321.20 399.68"/>
<path stroke="#ff0000" stroke-width="1.7" stroke-dasharray="4 2.6" d="M51.00 404.40 L53.03 404.35 L54.04 404.24 L54.58 403.96 L55.05 403.41 L55.66 402.24 L56.27 400.59 L58.09 394.04 L58.57 392.52 L59.04 391.44 L59.31 391.13 L59.51 391.06 L59.78 391.18 L60.05 391.50 L60.59 392.69 L62.15 398.21 L62.89 400.37 L63.56 401.64 L63.90 402.05 L64.31 402.38 L64.71 402.56 L65.25 402.67 L68.36 402.89 L78.97 402.98 L79.37 403.07 L79.71 403.26 L80.79 404.28 L80.99 404.36 L81.19 404.32 L81.40 404.13 L81.60 403.77 L82.07 402.27 L84.30 391.74 L85.25 387.92 L85.59 386.98 L85.99 386.27 L86.40 385.94 L87.00 385.78 L89.30 385.61 L95.45 385.38 L112.47 384.90 L155.63 384.14 L207.38 383.07 L241.22 382.64 L246.56 382.63 L247.23 382.68 L247.84 382.84 L248.58 383.18 L249.60 383.81 L250.41 384.40 L251.15 385.07 L251.83 385.81 L252.57 386.76 L254.06 389.05 L255.00 390.81 L255.61 392.34 L256.15 394.13 L257.30 398.46 L257.84 400.15 L258.38 401.24 L258.58 401.47 L258.85 401.61 L259.19 401.57 L259.53 401.36 L261.15 399.55 L261.55 399.22 L261.96 399.01 L263.44 398.63 L266.55 398.21 L267.84 397.96 L269.05 397.57 L270.33 396.93 L271.35 396.30 L272.16 395.66 L276.48 391.59 L277.09 391.18 L277.63 391.04 L277.97 391.12 L278.31 391.38 L278.64 391.82 L278.98 392.42 L280.40 395.76 L282.09 400.58 L282.56 401.39 L282.83 401.62 L283.10 401.72 L283.51 401.70 L284.05 401.52 L286.48 400.28 L287.02 400.12 L287.63 400.06 L321.20 400.04"/>
<path stroke="#0000ff" stroke-width="1.7" stroke-dasharray="1.5 1.5" d="M51.00 404.40 L53.03 404.35 L54.04 404.24 L54.58 403.96 L55.05 403.41 L55.66 402.24 L56.27 400.59 L58.09 394.04 L58.63 392.34 L58.90 391.69 L59.17 391.26 L59.38 391.09 L59.65 391.09 L59.85 391.24 L60.12 391.62 L60.59 392.69 L62.01 397.67 L63.70 402.98 L64.17 404.23 L64.58 404.87 L64.92 405.13 L65.46 405.30 L66.87 405.50 L68.43 405.63 L71.81 405.70 L77.34 405.50 L77.95 405.56 L78.36 405.71 L78.76 406.02 L79.10 406.40 L79.44 406.91 L79.78 407.61 L80.32 409.29 L81.47 413.95 L81.80 414.76 L82.01 415.00 L82.14 415.04 L82.34 414.94 L82.55 414.64 L82.95 413.53 L83.42 411.52 L83.83 409.16 L84.37 404.72 L85.45 393.26 L85.72 391.13 L85.99 389.56 L86.33 388.28 L86.80 387.30 L87.07 387.01 L87.34 386.83 L88.15 386.58 L89.64 386.37 L91.60 386.25 L108.21 385.79 L120.51 385.60 L156.92 385.20 L214.88 384.04 L233.59 383.72 L238.92 383.54 L242.77 383.33 L243.65 383.16 L245.34 382.52 L246.02 382.37 L246.49 382.50 L246.89 382.96 L247.30 383.85 L247.71 385.16 L248.31 387.68 L249.87 394.83 L251.83 404.87 L252.16 406.14 L252.43 406.89 L252.70 407.38 L252.97 407.59 L253.18 407.57 L253.38 407.42 L253.85 406.64 L254.46 405.14 L256.22 400.29 L256.62 399.47 L257.03 398.97 L257.57 398.65 L258.45 398.40 L259.53 398.20 L262.57 397.83 L263.44 397.63 L264.05 397.40 L264.59 397.07 L265.13 396.60 L267.09 394.39 L267.77 393.74 L268.44 393.30 L269.19 393.10 L270.47 393.08 L271.15 393.14 L271.62 393.35 L272.09 393.78 L272.83 394.87 L274.12 397.20 L276.08 401.40 L276.55 402.08 L276.75 402.25 L277.02 402.37 L277.43 402.30 L277.83 402.01 L279.25 400.26 L279.79 399.71 L280.26 399.45 L280.74 399.37 L281.41 399.41 L282.29 399.59 L285.87 400.58 L287.49 400.76 L306.61 400.70 L321.20 400.41"/>
<path stroke="#08f008" stroke-width="1.9" stroke-dasharray="6 2.4 1.2 2.4" d="M51.00 404.40 L53.03 404.35 L54.04 404.24 L54.58 403.96 L55.05 403.41 L55.66 402.24 L56.27 400.59 L58.09 394.04 L58.57 392.52 L59.04 391.44 L59.31 391.13 L59.51 391.06 L59.78 391.18 L60.05 391.50 L60.59 392.69 L62.15 398.21 L62.89 400.37 L63.56 401.64 L63.90 402.05 L64.31 402.38 L64.92 402.61 L66.13 402.76 L68.29 402.89 L70.79 402.95 L74.30 402.91 L77.41 402.79 L78.29 402.70 L78.90 402.46 L79.57 401.85 L80.25 400.88 L80.92 399.62 L81.47 398.26 L82.21 395.58 L84.10 387.27 L84.50 385.82 L84.84 384.87 L85.32 383.89 L85.86 383.13 L86.40 382.72 L87.07 382.53 L88.63 382.38 L90.72 382.28 L106.46 381.92 L158.40 381.32 L191.30 380.67 L202.92 380.50 L223.25 380.45 L224.06 380.53 L224.74 380.83 L225.48 381.44 L226.29 382.35 L226.90 383.26 L227.58 384.49 L229.40 388.43 L230.28 390.48 L231.02 392.50 L232.78 397.70 L233.66 399.92 L234.13 400.86 L234.60 401.56 L235.07 401.98 L235.55 402.15 L236.36 402.12 L237.51 401.84 L241.83 400.12 L246.76 398.75 L247.98 398.33 L248.85 397.94 L249.60 397.44 L250.27 396.77 L252.50 393.81 L253.24 392.96 L253.92 392.41 L254.26 392.25 L254.53 392.20 L254.87 392.27 L255.14 392.45 L255.47 392.83 L255.81 393.37 L257.64 397.43 L259.46 401.14 L260.07 401.89 L260.34 402.06 L260.68 402.16 L261.22 402.16 L262.09 402.04 L265.81 401.26 L267.43 401.14 L298.17 401.20 L321.20 401.49"/>
</g>
<g stroke="#111" stroke-width="1" fill="none">
<path d="M51.00 295.50 H321.20 V513.30 H51.00 Z" stroke="#111" stroke-width="1"/>
<line x1="51.00" y1="513.30" x2="51.00" y2="517.50"/>
<line x1="64.51" y1="513.30" x2="64.51" y2="515.50"/>
<line x1="78.02" y1="513.30" x2="78.02" y2="517.50"/>
<line x1="91.53" y1="513.30" x2="91.53" y2="515.50"/>
<line x1="105.04" y1="513.30" x2="105.04" y2="517.50"/>
<line x1="118.55" y1="513.30" x2="118.55" y2="515.50"/>
<line x1="132.06" y1="513.30" x2="132.06" y2="517.50"/>
<line x1="145.57" y1="513.30" x2="145.57" y2="515.50"/>
<line x1="159.08" y1="513.30" x2="159.08" y2="517.50"/>
<line x1="172.59" y1="513.30" x2="172.59" y2="515.50"/>
<line x1="186.10" y1="513.30" x2="186.10" y2="517.50"/>
<line x1="199.61" y1="513.30" x2="199.61" y2="515.50"/>
<line x1="213.12" y1="513.30" x2="213.12" y2="517.50"/>
<line x1="226.63" y1="513.30" x2="226.63" y2="515.50"/>
<line x1="240.14" y1="513.30" x2="240.14" y2="517.50"/>
<line x1="253.65" y1="513.30" x2="253.65" y2="515.50"/>
<line x1="267.16" y1="513.30" x2="267.16" y2="517.50"/>
<line x1="280.67" y1="513.30" x2="280.67" y2="515.50"/>
<line x1="294.18" y1="513.30" x2="294.18" y2="517.50"/>
<line x1="307.69" y1="513.30" x2="307.69" y2="515.50"/>
<line x1="321.20" y1="513.30" x2="321.20" y2="517.50"/>
<line x1="51.00" y1="513.30" x2="46.80" y2="513.30"/>
<line x1="51.00" y1="495.15" x2="48.80" y2="495.15"/>
<line x1="51.00" y1="477.00" x2="46.80" y2="477.00"/>
<line x1="51.00" y1="458.85" x2="48.80" y2="458.85"/>
<line x1="51.00" y1="440.70" x2="46.80" y2="440.70"/>
<line x1="51.00" y1="422.55" x2="48.80" y2="422.55"/>
<line x1="51.00" y1="404.40" x2="46.80" y2="404.40"/>
<line x1="51.00" y1="386.25" x2="48.80" y2="386.25"/>
<line x1="51.00" y1="368.10" x2="46.80" y2="368.10"/>
<line x1="51.00" y1="349.95" x2="48.80" y2="349.95"/>
<line x1="51.00" y1="331.80" x2="46.80" y2="331.80"/>
<line x1="51.00" y1="313.65" x2="48.80" y2="313.65"/>
<line x1="51.00" y1="295.50" x2="46.80" y2="295.50"/>
</g>
<g font-size="10" fill="#111" text-anchor="middle">
<text x="51.00" y="528.00">0.0</text>
<text x="78.02" y="528.00">0.2</text>
<text x="105.04" y="528.00">0.4</text>
<text x="132.06" y="528.00">0.6</text>
<text x="159.08" y="528.00">0.8</text>
<text x="186.10" y="528.00">1.0</text>
<text x="213.12" y="528.00">1.2</text>
<text x="240.14" y="528.00">1.4</text>
<text x="267.16" y="528.00">1.6</text>
<text x="294.18" y="528.00">1.8</text>
<text x="321.20" y="528.00">2.0</text>
</g>
<g font-size="10" fill="#111" text-anchor="end">
<text x="43.20" y="516.70">35</text>
<text x="43.20" y="480.40">40</text>
<text x="43.20" y="444.10">45</text>
<text x="43.20" y="407.80">50</text>
<text x="43.20" y="371.50">55</text>
<text x="43.20" y="335.20">60</text>
<text x="43.20" y="298.90">65</text>
</g>
<text x="186.10" y="546.80" font-size="12.5" fill="#111" text-anchor="middle">Time(ns)</text>
<text transform="translate(20.00 397.70) rotate(-90)" font-size="12.5" fill="#111" text-anchor="middle">Z(&#937;)</text>
<text x="0.60" y="301.80" font-size="18" fill="#111">(c)</text>
<line x1="207.00" y1="307.20" x2="233.80" y2="307.20" stroke="#000" stroke-width="1.8"/>
<text x="236.30" y="311.10" font-size="11.3" fill="#111">BSPML(0.5mm)</text>
<line x1="207.00" y1="321.15" x2="233.80" y2="321.15" stroke="#ff0000" stroke-width="1.7" stroke-dasharray="4 2.6"/>
<text x="236.30" y="325.05" font-size="11.3" fill="#111">BSPML(1.0mm)</text>
<line x1="207.00" y1="335.10" x2="233.80" y2="335.10" stroke="#0000ff" stroke-width="1.7" stroke-dasharray="1.5 1.5"/>
<text x="236.30" y="339.00" font-size="11.3" fill="#111">BSPML(2.0mm)</text>
<line x1="207.00" y1="349.05" x2="233.80" y2="349.05" stroke="#08f008" stroke-width="1.9" stroke-dasharray="6 2.4 1.2 2.4"/>
<text x="236.30" y="352.95" font-size="11.3" fill="#111">CML</text>
<clipPath id="clipd"><rect x="407.5" y="295.5" width="270.2" height="217.8"/></clipPath>
<g fill="none" stroke-linejoin="round" clip-path="url(#clipd)">
<path stroke="#000" stroke-width="1.8" d="M407.50 404.40 L409.53 404.35 L410.54 404.24 L411.08 403.96 L411.55 403.41 L412.16 402.24 L412.77 400.59 L414.59 394.04 L415.07 392.52 L415.54 391.44 L415.81 391.13 L416.01 391.06 L416.28 391.18 L416.55 391.50 L417.09 392.69 L418.65 398.21 L419.39 400.37 L420.06 401.64 L420.40 402.05 L420.81 402.38 L421.35 402.60 L422.16 402.71 L424.12 402.86 L426.28 402.93 L434.52 402.94 L435.20 402.87 L435.74 402.65 L436.34 402.14 L436.95 401.36 L437.42 400.49 L437.76 399.59 L438.30 397.39 L439.59 390.39 L440.46 386.40 L440.87 384.94 L441.27 383.80 L441.61 383.20 L441.82 383.01 L442.02 382.94 L442.22 382.97 L442.49 383.12 L443.37 383.95 L443.77 384.24 L444.18 384.42 L444.72 384.55 L446.07 384.71 L447.49 384.79 L453.43 384.77 L462.08 384.65 L471.74 384.41 L511.59 383.08 L545.50 382.32 L563.81 381.98 L593.47 381.56 L608.39 381.41 L617.24 381.42 L618.12 381.54 L619.13 381.80 L619.88 382.09 L620.49 382.45 L621.16 383.00 L621.84 383.69 L622.58 384.61 L623.32 385.65 L624.27 387.18 L624.94 388.58 L625.48 390.07 L627.04 394.91 L627.71 396.55 L628.93 399.18 L629.74 400.75 L630.48 401.93 L631.09 402.61 L631.70 402.98 L632.10 403.01 L632.44 402.86 L632.78 402.57 L633.18 402.05 L633.79 400.99 L636.56 395.53 L636.97 394.86 L637.37 394.40 L637.58 394.27 L637.85 394.21 L638.12 394.26 L638.39 394.40 L638.99 394.95 L640.28 396.50 L640.82 397.03 L641.43 397.35 L641.70 397.37 L641.97 397.30 L642.57 396.87 L643.18 396.11 L643.79 395.13 L645.28 392.45 L646.02 391.33 L646.63 390.71 L646.96 390.52 L647.23 390.47 L647.51 390.50 L647.78 390.63 L648.32 391.13 L648.92 392.01 L650.61 394.83 L652.64 397.60 L655.88 401.65 L656.56 402.29 L657.16 402.63 L657.50 402.67 L657.84 402.58 L658.11 402.41 L658.45 402.06 L659.06 401.15 L660.34 398.72 L660.88 397.81 L661.49 397.10 L661.76 396.93 L662.03 396.86 L662.37 396.91 L662.77 397.14 L663.24 397.58 L664.66 399.14 L665.07 399.43 L665.54 399.61 L666.28 399.64 L668.78 399.36 L669.93 399.35 L670.88 399.47 L673.71 400.05 L675.94 400.29 L677.70 400.40"/>
<path stroke="#ff0000" stroke-width="1.7" stroke-dasharray="4 2.6" d="M407.50 404.40 L409.53 404.35 L410.54 404.24 L411.08 403.96 L411.55 403.41 L412.16 402.24 L412.77 400.59 L414.59 394.04 L415.07 392.52 L415.54 391.44 L415.81 391.13 L416.01 391.06 L416.28 391.18 L416.55 391.50 L417.09 392.69 L418.65 398.21 L419.39 400.37 L420.06 401.64 L420.40 402.05 L420.81 402.38 L421.21 402.56 L421.75 402.67 L424.73 402.89 L434.86 402.98 L435.26 403.10 L435.60 403.30 L436.82 404.52 L437.15 404.63 L437.42 404.55 L437.83 404.11 L438.30 403.14 L438.84 401.56 L439.45 399.40 L440.26 395.96 L441.55 389.16 L442.15 386.76 L442.49 385.79 L442.83 385.10 L443.17 384.70 L443.64 384.49 L444.25 384.49 L446.88 384.74 L448.30 384.80 L462.89 384.63 L475.73 384.29 L512.13 383.07 L545.10 382.31 L565.23 381.95 L590.70 381.66 L607.11 381.54 L613.87 381.54 L614.54 381.60 L615.15 381.76 L615.89 382.10 L616.70 382.60 L617.31 383.08 L617.85 383.62 L618.46 384.38 L619.07 385.28 L620.35 387.61 L621.03 389.13 L621.57 390.68 L623.39 397.60 L624.81 402.02 L625.28 403.26 L625.69 404.10 L626.09 404.65 L626.43 404.83 L626.63 404.81 L626.90 404.63 L627.38 403.93 L627.85 402.85 L629.00 399.68 L629.60 398.22 L630.62 396.29 L631.29 395.40 L631.77 395.15 L632.24 395.24 L632.78 395.66 L634.00 397.03 L634.47 397.46 L635.01 397.72 L635.28 397.74 L635.62 397.66 L636.22 397.27 L636.90 396.55 L639.13 393.28 L639.87 392.33 L640.62 391.68 L640.95 391.51 L641.22 391.46 L641.56 391.51 L641.90 391.68 L642.24 391.99 L642.64 392.50 L643.18 393.38 L644.94 396.58 L648.38 401.85 L649.40 402.99 L649.87 403.34 L650.27 403.51 L650.54 403.54 L650.82 403.48 L651.09 403.32 L651.36 403.06 L651.90 402.26 L653.11 399.89 L653.58 399.11 L654.06 398.58 L654.33 398.42 L654.60 398.35 L655.07 398.41 L655.68 398.70 L656.42 399.25 L658.65 401.21 L659.39 401.63 L660.07 401.80 L660.74 401.77 L661.56 401.55 L662.43 401.17 L665.14 399.76 L666.01 399.46 L666.82 399.34 L670.20 399.36 L672.90 399.57 L675.13 399.97 L677.70 400.70"/>
<path stroke="#0000ff" stroke-width="1.7" stroke-dasharray="1.5 1.5" d="M407.50 404.40 L409.53 404.35 L410.54 404.24 L411.08 403.96 L411.55 403.41 L412.16 402.24 L412.77 400.59 L414.59 394.04 L415.13 392.34 L415.61 391.34 L415.81 391.13 L416.08 391.07 L416.28 391.18 L416.55 391.50 L417.02 392.51 L417.43 393.75 L418.58 397.90 L420.00 402.23 L420.54 403.68 L421.01 404.46 L421.35 404.72 L421.75 404.84 L424.18 405.05 L428.24 405.12 L433.98 404.92 L434.59 404.98 L435.13 405.19 L435.60 405.55 L436.01 405.98 L436.34 406.48 L436.68 407.18 L437.22 408.89 L438.37 413.62 L438.71 414.47 L438.91 414.65 L439.05 414.60 L439.32 414.04 L439.59 412.82 L440.19 408.19 L441.21 397.87 L442.36 382.96 L442.69 380.25 L442.83 379.75 L442.96 379.57 L443.10 379.69 L443.30 380.32 L444.25 385.25 L444.45 385.81 L444.58 386.01 L444.72 386.07 L444.92 385.94 L445.19 385.44 L446.34 382.21 L446.61 381.80 L446.88 381.66 L447.15 381.79 L447.42 382.15 L448.57 384.37 L448.91 384.71 L449.25 384.80 L449.52 384.74 L449.85 384.56 L451.48 383.27 L451.95 383.08 L452.49 383.01 L454.45 383.16 L458.64 383.82 L460.32 384.02 L461.81 384.07 L466.47 384.05 L479.10 383.78 L503.62 382.93 L513.76 382.66 L559.22 382.08 L582.05 381.64 L588.33 381.44 L593.80 381.19 L599.00 380.84 L603.19 380.45 L603.87 380.28 L604.54 379.95 L606.64 378.34 L607.31 377.91 L607.99 377.65 L608.60 377.61 L609.07 377.72 L609.61 377.97 L610.15 378.35 L610.76 378.92 L611.16 379.40 L611.50 379.93 L612.04 381.25 L612.51 382.96 L613.05 385.44 L615.62 399.18 L616.36 402.66 L617.18 405.81 L617.78 407.80 L618.32 409.04 L618.59 409.40 L618.80 409.54 L619.07 409.53 L619.40 409.23 L619.67 408.78 L620.01 407.99 L621.84 402.28 L623.39 396.97 L623.80 395.88 L624.20 395.16 L624.47 394.93 L624.67 394.91 L624.94 395.07 L625.21 395.43 L625.75 396.66 L626.90 400.12 L627.38 401.28 L627.65 401.75 L627.92 402.04 L628.12 402.14 L628.39 402.11 L628.66 401.91 L628.93 401.57 L629.60 400.22 L630.21 398.58 L631.70 394.08 L632.37 392.36 L632.98 391.29 L633.25 391.02 L633.52 390.91 L633.86 391.03 L634.27 391.56 L634.67 392.44 L635.68 395.06 L636.02 395.70 L636.36 396.09 L636.70 396.25 L637.10 396.23 L638.66 395.49 L639.20 395.34 L639.60 395.43 L639.94 395.76 L640.28 396.37 L640.68 397.45 L642.24 402.71 L642.71 403.71 L642.91 403.94 L643.11 404.06 L643.32 404.07 L643.52 403.97 L643.99 403.41 L644.53 402.38 L646.22 398.47 L646.76 397.67 L647.03 397.45 L647.30 397.35 L647.71 397.45 L648.11 397.78 L649.53 399.73 L650.00 400.27 L650.41 400.57 L650.88 400.71 L651.42 400.70 L652.10 400.59 L655.75 399.56 L656.62 399.39 L657.44 399.34 L658.18 399.38 L658.99 399.52 L662.37 400.50 L663.85 400.74 L677.70 400.77"/>
<path stroke="#08f008" stroke-width="1.9" stroke-dasharray="6 2.4 1.2 2.4" d="M407.50 404.40 L409.53 404.35 L410.54 404.24 L411.08 403.96 L411.55 403.41 L412.16 402.24 L412.77 400.59 L414.59 394.04 L415.07 392.52 L415.54 391.44 L415.81 391.13 L416.01 391.06 L416.28 391.18 L416.55 391.50 L417.09 392.69 L418.65 398.21 L419.39 400.37 L420.06 401.64 L420.40 402.05 L420.81 402.38 L421.35 402.60 L422.23 402.72 L424.25 402.87 L426.48 402.94 L434.59 402.94 L435.26 402.85 L435.80 402.61 L436.34 402.14 L436.95 401.36 L437.42 400.49 L437.76 399.60 L438.37 397.07 L439.79 388.98 L440.53 385.52 L441.00 383.96 L441.41 383.03 L441.82 382.51 L442.29 382.31 L443.10 382.30 L446.54 382.56 L448.23 382.62 L458.50 382.57 L469.98 382.44 L519.57 381.45 L548.68 380.72 L561.92 380.49 L581.10 380.45 L581.98 380.54 L582.66 380.86 L583.27 381.37 L583.81 381.98 L584.28 382.70 L584.68 383.49 L586.91 389.21 L590.22 397.21 L591.37 399.70 L592.05 400.89 L592.65 401.72 L593.26 402.26 L593.87 402.51 L594.48 402.53 L595.22 402.42 L596.03 402.19 L596.98 401.83 L602.65 399.12 L605.22 397.69 L606.91 396.56 L608.33 395.39 L609.14 394.48 L610.62 392.31 L611.03 391.92 L611.43 391.76 L611.70 391.81 L612.04 392.05 L612.65 392.92 L614.61 397.29 L616.57 401.18 L616.90 401.68 L617.24 402.05 L617.58 402.27 L617.92 402.37 L618.46 402.36 L619.20 402.22 L622.44 401.29 L623.19 401.18 L624.00 401.14 L654.67 401.20 L677.70 401.49"/>
</g>
<g stroke="#111" stroke-width="1" fill="none">
<path d="M407.50 295.50 H677.70 V513.30 H407.50 Z" stroke="#111" stroke-width="1"/>
<line x1="407.50" y1="513.30" x2="407.50" y2="517.50"/>
<line x1="421.01" y1="513.30" x2="421.01" y2="515.50"/>
<line x1="434.52" y1="513.30" x2="434.52" y2="517.50"/>
<line x1="448.03" y1="513.30" x2="448.03" y2="515.50"/>
<line x1="461.54" y1="513.30" x2="461.54" y2="517.50"/>
<line x1="475.05" y1="513.30" x2="475.05" y2="515.50"/>
<line x1="488.56" y1="513.30" x2="488.56" y2="517.50"/>
<line x1="502.07" y1="513.30" x2="502.07" y2="515.50"/>
<line x1="515.58" y1="513.30" x2="515.58" y2="517.50"/>
<line x1="529.09" y1="513.30" x2="529.09" y2="515.50"/>
<line x1="542.60" y1="513.30" x2="542.60" y2="517.50"/>
<line x1="556.11" y1="513.30" x2="556.11" y2="515.50"/>
<line x1="569.62" y1="513.30" x2="569.62" y2="517.50"/>
<line x1="583.13" y1="513.30" x2="583.13" y2="515.50"/>
<line x1="596.64" y1="513.30" x2="596.64" y2="517.50"/>
<line x1="610.15" y1="513.30" x2="610.15" y2="515.50"/>
<line x1="623.66" y1="513.30" x2="623.66" y2="517.50"/>
<line x1="637.17" y1="513.30" x2="637.17" y2="515.50"/>
<line x1="650.68" y1="513.30" x2="650.68" y2="517.50"/>
<line x1="664.19" y1="513.30" x2="664.19" y2="515.50"/>
<line x1="677.70" y1="513.30" x2="677.70" y2="517.50"/>
<line x1="407.50" y1="513.30" x2="403.30" y2="513.30"/>
<line x1="407.50" y1="495.15" x2="405.30" y2="495.15"/>
<line x1="407.50" y1="477.00" x2="403.30" y2="477.00"/>
<line x1="407.50" y1="458.85" x2="405.30" y2="458.85"/>
<line x1="407.50" y1="440.70" x2="403.30" y2="440.70"/>
<line x1="407.50" y1="422.55" x2="405.30" y2="422.55"/>
<line x1="407.50" y1="404.40" x2="403.30" y2="404.40"/>
<line x1="407.50" y1="386.25" x2="405.30" y2="386.25"/>
<line x1="407.50" y1="368.10" x2="403.30" y2="368.10"/>
<line x1="407.50" y1="349.95" x2="405.30" y2="349.95"/>
<line x1="407.50" y1="331.80" x2="403.30" y2="331.80"/>
<line x1="407.50" y1="313.65" x2="405.30" y2="313.65"/>
<line x1="407.50" y1="295.50" x2="403.30" y2="295.50"/>
</g>
<g font-size="10" fill="#111" text-anchor="middle">
<text x="407.50" y="528.00">0.0</text>
<text x="434.52" y="528.00">0.2</text>
<text x="461.54" y="528.00">0.4</text>
<text x="488.56" y="528.00">0.6</text>
<text x="515.58" y="528.00">0.8</text>
<text x="542.60" y="528.00">1.0</text>
<text x="569.62" y="528.00">1.2</text>
<text x="596.64" y="528.00">1.4</text>
<text x="623.66" y="528.00">1.6</text>
<text x="650.68" y="528.00">1.8</text>
<text x="677.70" y="528.00">2.0</text>
</g>
<g font-size="10" fill="#111" text-anchor="end">
<text x="399.70" y="516.70">35</text>
<text x="399.70" y="480.40">40</text>
<text x="399.70" y="444.10">45</text>
<text x="399.70" y="407.80">50</text>
<text x="399.70" y="371.50">55</text>
<text x="399.70" y="335.20">60</text>
<text x="399.70" y="298.90">65</text>
</g>
<text x="542.60" y="546.80" font-size="12.5" fill="#111" text-anchor="middle">Time(ns)</text>
<text transform="translate(376.50 397.70) rotate(-90)" font-size="12.5" fill="#111" text-anchor="middle">Z(&#937;)</text>
<text x="361.50" y="301.80" font-size="18" fill="#111">(d)</text>
<line x1="564.70" y1="307.60" x2="590.50" y2="307.60" stroke="#000" stroke-width="1.8"/>
<text x="593.60" y="311.50" font-size="11.3" fill="#111">USPML(0.5mm)</text>
<line x1="564.70" y1="321.40" x2="590.50" y2="321.40" stroke="#ff0000" stroke-width="1.7" stroke-dasharray="4 2.6"/>
<text x="593.60" y="325.30" font-size="11.3" fill="#111">USPML(1.0mm)</text>
<line x1="564.70" y1="335.20" x2="590.50" y2="335.20" stroke="#0000ff" stroke-width="1.7" stroke-dasharray="1.5 1.5"/>
<text x="593.60" y="339.10" font-size="11.3" fill="#111">USPML(2.0mm)</text>
<line x1="564.70" y1="349.00" x2="590.50" y2="349.00" stroke="#08f008" stroke-width="1.9" stroke-dasharray="6 2.4 1.2 2.4"/>
<text x="593.60" y="352.90" font-size="11.3" fill="#111">CML</text>
</svg></body></html>
